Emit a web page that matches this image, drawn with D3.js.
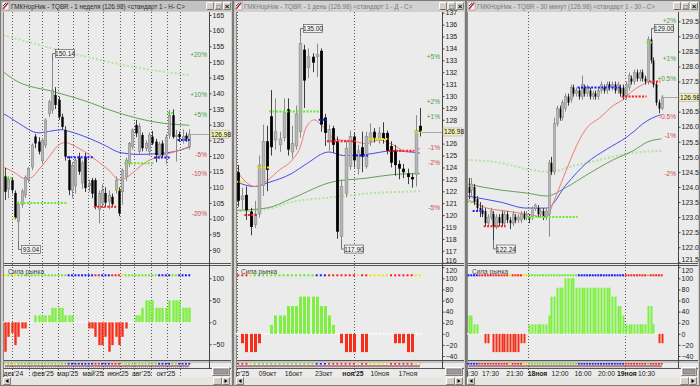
<!DOCTYPE html>
<html>
<head>
<meta charset="utf-8">
<script src="https://cdn.jsdelivr.net/npm/d3@7"></script>
<style>
  body { margin: 0; background: #d4d0c8; }
  svg { display: block; font-family: "Liberation Sans", Arial, sans-serif; }
</style>
</head>
<body>
<svg id="chart" width="700" height="386"></svg>
<script>
const titles = [
  "ГМКНорНик - TQBR - 1 неделя (126.98) <стандарт 1 - Н- С>",
  "ГМКНорНик - TQBR - 1 день (126.98) <стандарт 1 - Д - С>",
  "ГМКНорНик - TQBR - 30 минут (126.98) <стандарт 1 - 30 - С>"
];
const lastPrice = 126.98;

// weekly candles [open, high, low, close]
const candles1 = [
  [113.5,116.2,106,108.6],[109.5,113.5,106.5,112.5],[112.3,113,108,109.1],[108.2,109,99.8,100.2],
  [99,105.5,93.04,104.5],[104.5,109.5,103.5,108.8],[107.5,113.8,106.5,113.2],[112.5,116.5,111.5,116],
  [116.5,124,115.5,123.5],[126.2,127,122.5,124],[124.6,126,120.5,121.4],[118.5,125.5,117.5,125],
  [123.5,132,122.5,131.5],[133.6,138,132.5,137.3],[134.7,150.14,133.5,141],[139.5,142,135,136.3],
  [137.9,139,131.5,132.5],[132.5,133.5,128.5,129.3],[128.3,129.5,118.5,119.8],[118.7,120,107.5,109.1],
  [109,118,106.5,117],[110.5,119.5,108,118.7],[119.4,121,114,115],[111.4,118.5,109.5,117.8],
  [119.8,121,108.5,109.8],[110.5,112.5,108.5,111.2],[112.3,113,106.5,108],[112.3,113,103,103.8],
  [103,109,98.5,108],[105,111,103.5,109],[108.2,110,104,105.1],[105.5,109,103,107.5],
  [107,108,103.8,104.6],[109.1,113.5,108,112.3],[109.1,110,100.8,101.7],[108.6,116,104.5,115.5],
  [113.4,119.5,112,118.7],[117.7,124.5,116.5,124],[123,128.8,122,128.3],[129.9,131.5,126,127.2],
  [121.5,130.5,120.5,129.5],[126.7,127.5,121.5,122.5],[122.5,125,121.5,124],[121.4,127.5,120,126.7],
  [126.2,128,123.5,124],[124.6,125.5,118,120.3],[120,124.5,119,123.8],[124,125,119.5,120.3],
  [120.5,127,117.5,126],[126.7,134.7,125.5,133],[133,134.9,125.5,126.1],[126.2,128.3,118.2,126.5],
  [127,127.8,124.5,126],[125.5,128.5,124,126.3],[126.5,127.5,124.5,125.5],[123,128.5,122,126.98]
];
// daily candles
const candles2 = [
  [123.6,124.2,120.7,121.2],[121.3,122.3,120.5,121.6],[121.7,122.4,119.6,120.4],[120.3,120.6,118.3,119.0],
  [119.2,121.2,118.9,120.1],[120.1,125.0,119.8,124.2],[122.5,127.6,121.6,126.2],[126.2,127.5,122.0,123.8],
  [128.3,130.5,125.0,125.7],[126.3,129.8,125.5,127.0],[125.9,127.0,125.3,126.4],[126.5,129.8,126.2,128.6],
  [128.9,129.8,125.0,125.5],[125.3,127.5,124.8,126.0],[125.8,129.2,125.5,128.5],[127.0,135.0,126.5,134.4],
  [133.9,134.3,129.0,131.3],[132.4,134.0,131.5,133.3],[133.3,133.6,132.0,132.8],[133.3,134.4,131.6,133.5],
  [133.8,134.0,127.0,127.6],[128.2,128.5,125.8,126.9],[126.3,127.6,125.4,127.2],[127.3,127.5,125.2,125.9],
  [126.2,126.6,118.0,118.6],[118.2,123.0,117.9,122.4],[121.8,126.2,121.5,125.6],[124.1,127.1,123.8,126.6],
  [126.6,126.9,124.0,124.6],[123.9,125.9,123.4,125.4],[125.7,127.0,123.6,124.9],[124.1,127.0,123.9,126.6],
  [126.2,127.7,125.8,126.9],[127.0,127.3,126.1,126.5],[126.4,127.4,126.0,126.9],[126.9,127.8,126.0,126.4],
  [126.9,127.1,125.1,125.4],[125.8,126.2,124.0,124.4],[125.4,125.9,123.3,124.2],[124.3,124.6,123.0,123.9],
  [123.9,124.3,123.1,123.6],[123.5,123.9,122.6,123.2],[123.2,123.5,122.3,123.0],[123.4,128.4,122.4,127.1],
  [127.5,129.0,126.6,126.98]
];
// 30-minute candles
const candles3 = [
  [124.0,124.3,123.6,123.8],[123.9,124.3,123.7,124.1],[124.0,124.1,123.4,123.5],[123.6,123.7,123.2,123.3],
  [123.3,123.5,123.0,123.2],[123.2,123.4,123.0,123.1],[123.2,123.3,122.7,122.8],[122.8,123.1,122.7,123.0],
  [123.0,123.3,122.9,123.2],[123.1,123.2,122.24,122.7],[122.7,123.1,122.6,123.0],[123.0,123.1,122.7,122.8],
  [123.1,123.2,122.7,122.8],[122.8,123.2,122.7,123.1],[123.1,123.2,122.8,122.9],[122.9,123.0,122.6,122.8],
  [122.8,123.2,122.7,123.1],[123.0,123.1,122.8,122.9],[122.9,123.1,122.8,123.0],[122.9,123.2,122.8,123.1],
  [123.1,123.2,122.9,122.95],[123.0,123.2,122.9,123.1],[123.0,123.1,122.8,122.95],[123.0,123.35,122.9,123.3],
  [123.3,123.45,123.2,123.4],[123.3,123.4,123.0,123.1],[123.1,123.3,123.0,123.2],[123.2,123.3,122.9,123.0],
  [123.0,123.3,122.9,123.2],[123.1,124.9,122.35,124.8],[124.8,125.0,124.4,124.5],[124.5,126.3,124.4,126.1],
  [126.1,126.7,126.0,126.6],[126.6,126.7,126.2,126.3],[126.3,126.9,126.2,126.8],[126.6,127.1,126.5,127.0],
  [127.0,127.1,126.7,126.8],[126.9,127.4,126.8,127.3],[127.3,127.4,127.0,127.1],[127.1,127.3,127.0,127.2],
  [127.2,127.3,126.9,127.0],[127.0,127.7,126.9,127.4],[127.3,127.4,127.0,127.1],[127.1,127.4,127.0,127.3],
  [127.2,127.3,126.9,127.0],[127.0,127.2,126.9,127.1],[127.1,127.2,126.9,127.0],[127.0,127.3,126.9,127.2],
  [127.2,127.5,127.1,127.4],[127.3,127.4,127.1,127.2],[127.2,127.5,127.1,127.4],[127.4,127.5,127.2,127.3],
  [127.3,127.5,127.2,127.4],[127.4,127.5,127.1,127.2],[127.2,127.5,127.1,127.4],[127.3,127.4,127.0,127.1],
  [127.3,127.4,126.9,127.0],[127.0,127.5,126.9,127.4],[127.3,127.8,127.2,127.7],[127.6,127.7,127.4,127.5],
  [127.5,127.9,127.4,127.8],[127.8,127.9,127.5,127.6],[127.6,127.9,127.5,127.8],[127.8,127.9,127.5,127.6],
  [127.6,127.7,127.4,127.5],[127.5,129.0,127.4,128.9],[128.9,129.0,128.1,128.2],[128.2,128.3,127.3,127.4],
  [127.4,127.5,126.7,126.8],[126.8,126.9,126.45,126.6],[126.6,127.05,126.55,126.98]
];

// moving averages, [bar index, value]
const maRed1 = [[-0.6,116.4],[0,116.2],[3,114.6],[6,112.7],[8,113.2],[10,115.5],[13,119.5],[16,123.5],[18,124.3],[20,123.6],[22,122.5],[25,120.5],[28,118],[31,115.5],[34,112.5],[36,113],[38,114.5],[40,116.4],[43,118.6],[46,119.8],[49,120.8],[52,121.8],[55,123]];
const maBlue1 = [[-0.6,133.5],[0,133.2],[4,130.5],[10,127.4],[14,128.0],[17,128.4],[19,127.9],[25,125.7],[30,123.3],[34,121.2],[40,120.5],[46,120.8],[50,121.3],[55,122.8]];
const maGreen1 = [[-0.6,146.9],[3,144.2],[15,140.4],[23,137.9],[34,133.7],[45,130.8],[55,129.8]];
const maSlow1 = [[-0.6,158.6],[18,153.3],[38,148.5],[55,145.8]];

const maRed2 = [[-0.6,123.8],[4,122.4],[7,122.9],[10,123.8],[13,124.6],[15,125.7],[16.5,127.4],[18.5,128],[20,127.6],[22,126.9],[23,126.4],[28,126.2],[31,126],[34,126.3],[37.5,125.9],[41,125.3],[44,125.6]];
const maBlue2 = [[-0.6,122.8],[4,122.4],[7,122.7],[13,123.5],[16.5,124.3],[22,125.3],[25.5,125.0],[31,125.1],[37.5,125.4],[44,125.2]];
const maGreen2 = [[-0.6,120.4],[7,120.6],[13,121.4],[23,122.8],[31,123.1],[37.5,123.4],[44,123.5]];
const maSlow2 = [[-0.6,120.3],[7,120.5],[13,121.1],[23,121.5],[31,121.8],[44,122.0]];

const maRed3 = [[-0.6,123.6],[6.7,123.3],[13.9,123.2],[21,123.1],[28.3,123.0],[30.8,123.5],[35.6,124.6],[40.4,125.6],[42.8,125.95],[47.6,126.3],[52.4,126.7],[56,126.9],[59.6,127.2],[63.2,127.4],[65.6,127.5],[67.5,127.4],[68.7,127.35]];
const maBlue3 = [[-0.6,123.7],[11.5,123.5],[21,123.3],[28.3,123.3],[35.6,124.1],[42.8,124.8],[50,125.25],[57.2,125.65],[60,125.85],[63.2,126.1],[66.8,126.3],[69.9,126.4]];
const maGreen3 = [[-0.6,124.1],[11.5,123.9],[21,123.8],[28.3,123.7],[35.6,124.0],[42.8,124.4],[52.4,124.9],[59.6,125.2],[65,125.5],[69.9,125.6]];
const maSlow3 = [[-0.6,124.9],[11.5,124.8],[21,124.6],[29.5,124.5],[38,124.7],[47.6,124.9],[57.2,125.1],[69.9,125.2]];

// level markers [from bar, to bar, price, state]
const levels1 = [[0,0,115,"y"],[1,2,112.9,"g"],[3,3,100.2,"y"],[4,18,105,"g"],[19,26,119.6,"b"],[27,33,103.8,"r"],[34,34,109.1,"y"],[36,44,117.7,"g"],[45,49,119.5,"b"],[49,50,133.7,"g"],[52,55,125.1,"b"]];
const levels2 = [[0,1,122.8,"y"],[2,4,120.0,"r"],[5,7,124.0,"y"],[8,19,128.7,"g"],[20,21,128.0,"b"],[22,28,126.2,"r"],[29,31,125.0,"b"],[32,36,126.4,"y"],[37,42,125.4,"r"],[43,44,127.0,"y"]];
const levels3 = [[0,1,123.5,"g"],[2,5,123.2,"b"],[6,13,122.7,"r"],[21,39,123.0,"g"],[40,55,127.3,"b"],[56,64,127.0,"r"],[65,66,128.8,"g"],[66,69,127.5,"r"]];

// extremes [bar, price, isHigh]
const ext1 = [[14,150.14,1],[4,93.04,0]];
const ext2 = [[15,135.00,1],[25,117.90,0]];
const ext3 = [[66,129.00,1],[9,122.24,0]];

// "Сила рынка" indicator
const ind1 = [-67,-33,-24,-52,-33,-14,-14,0,0,16,16,16,16,16,33,33,33,33,16,16,16,0,0,0,0,-14,-14,-33,-52,-52,-33,-67,-52,-33,-52,-33,-14,0,0,16,16,33,50,50,50,33,33,33,33,50,50,50,50,33,33,33];
const ind2 = [0,-17,-33,-33,-33,-17,0,0,16,33,33,33,50,50,50,67,67,67,67,67,50,50,33,16,0,-17,-33,-33,-33,0,-33,-33,0,0,0,0,0,0,-17,-17,-17,-33,-33,0,0];
const ind3 = [33,33,17,17,0,0,-17,-17,0,-33,-33,-33,-33,-33,-33,-33,-33,-33,-33,-17,-17,0,17,17,17,17,17,17,17,33,67,67,83,83,83,100,100,100,100,83,83,83,83,83,83,83,83,83,83,83,83,83,67,67,50,50,33,17,17,17,17,17,17,17,17,50,50,17,0,-17,-17];
const states1 = ("y" + "gg" + "y" + "ggggggggggggggg" + "bbbbbbbb" + "rr" + "bbb" + "rrr" + "y" + "gggggggggg" + "bbbb" + "gg" + "bbbb").split("");
const states2 = ("rrr" + "y" + "ggggggggggggggg" + "bbb" + "rrrrrrr" + "y" + "rr" + "yyyyy" + "rrrrrr" + "yy").split("");
const states3 = ("bbbb" + "rrrrrrrrrrr" + "y" + "rrrr" + "yy" + "gggggggggggggggggg" + "bbbbbbbbbbbbbbbbb" + "rrrrrrrr" + "g" + "rrrrr").split("");

// axis ticks and labels
const yTicks1 = [90,95,100,105,110,115,120,125,130,135,140,145,150,155,160,165];
const yTicks2 = [116,117,118,119,120,121,122,123,124,125,126,127,128,129,130,131,132,133,134,135,136,137];
const yTicks3 = [121.5,122.0,122.5,123.0,123.5,124.0,124.5,125.0,125.5,126.0,126.5,127.0,127.5,128.0,128.5,129.0,129.5];
const indTicks1 = [100,50,0,-50];
const indTicks23 = [120,100,80,60,40,20,0,-20,-40];
const pcts1 = [20,10,5,-5,-10,-20];
const pcts2 = [5,2,1,-1,-2,-5];
const pcts3 = [2,1,0.5,-0.5,-1,-2];
const xLabels1 = ["дек'24","фев'25","мар'25","май'25","июн'25","авг'25","окт'25"];
const xLabelIdx1 = [2.5,11.3,18.7,26.3,33.7,40.7,48];
const xLabels2 = ["окт'25","09окт","16окт","23окт","ноя'25","10ноя","17ноя"];
const xLabelIdx2 = [0.4,7.1,13.4,20.7,27.8,34.3,41.1];
const xLabels3 = ["13:30","17:30","21:30","18ноя","12:00","16:00","20:00","19ноя","10:30"];
const xLabelIdx3 = [0.4,8.0,16.8,25.0,33.2,41.5,50.0,57.4,64.5];
const grid1 = [2.0,7.2,11.0,15.9,20.4,24.9,29.3,34.3,38.6,43.5,48.3,52.2];
const grid2 = [-0.3,27.95];
const grid3 = [21.56,56.6];

const COLORS = { g: "#66ea2e", b: "#1a1aff", r: "#ff1c1c", y: "#e8e800" };
const svg = d3.select("#chart");
const defs = svg.append("defs");

function raised(g, x, y, w, h) {
  g.append("rect").attr("x", x).attr("y", y).attr("width", w).attr("height", h).attr("fill", "#d4d0c8");
  g.append("path").attr("d", `M${x + 0.5},${y + h - 0.5}V${y + 0.5}H${x + w - 0.5}`)
    .attr("stroke", "#ffffff").attr("fill", "none");
  g.append("path").attr("d", `M${x + 0.5},${y + h - 0.5}H${x + w - 0.5}V${y + 0.5}`)
    .attr("stroke", "#808080").attr("fill", "none");
}

const panels = [
  { title: titles[0], candles: candles1, ind: ind1, states: states1, levels: levels1, ext: ext1,
    ma: [maSlow1, maGreen1, maBlue1, maRed1], yTicks: yTicks1, fmt: d3.format("d"), pcts: pcts1,
    indTicks: indTicks1, xLabels: xLabels1, xIdx: xLabelIdx1, bold: [], grid: grid1,
    left: 0, right: 233, plotL: 3, axisX: 209, x0: 5, step: 3.35, bodyW: 2.4, barW: 2.4,
    yDom: [90, 165], yRange: [250, 15], indDom: [-50, 100], indRange: [344.3, 278.3], active: true },
  { title: titles[1], candles: candles2, ind: ind2, states: states2, levels: levels2, ext: ext2,
    ma: [maSlow2, maGreen2, maBlue2, maRed2], yTicks: yTicks2, fmt: d3.format("d"), pcts: pcts2,
    indTicks: indTicks23, xLabels: xLabels2, xIdx: xLabelIdx2, bold: [4], grid: grid2,
    left: 233, right: 466, plotL: 236, axisX: 442, x0: 238.2, step: 4.13, bodyW: 2.8, barW: 3,
    yDom: [116, 137], yRange: [262.7, 12.7], indDom: [-40, 100], indRange: [356, 278.3], active: false },
  { title: titles[2], candles: candles3, ind: ind3, states: states3, levels: levels3, ext: ext3,
    ma: [maSlow3, maGreen3, maBlue3, maRed3], yTicks: yTicks3, fmt: d3.format(".1f"), pcts: pcts3,
    indTicks: indTicks23, xLabels: xLabels3, xIdx: xLabelIdx3, bold: [3, 7], grid: grid3,
    left: 466, right: 700, plotL: 467, axisX: 678, x0: 468.5, step: 2.76, bodyW: 1.8, barW: 2,
    yDom: [121.5, 129.5], yRange: [262.3, 21.3], indDom: [-40, 100], indRange: [356, 278.3], active: false }
];

function drawPanel(p, k) {
  const n = p.candles.length;
  const x = d3.scaleLinear().domain([0, n - 1]).range([p.x0, p.x0 + p.step * (n - 1)]);
  const y = d3.scaleLinear().domain(p.yDom).range(p.yRange);
  const yi = d3.scaleLinear().domain(p.indDom).range(p.indRange);
  const W = p.right - p.left;
  const plotR = p.right - 2;
  const g = svg.append("g");

  // window + title bar
  g.append("rect").attr("x", p.left).attr("y", 0).attr("width", W).attr("height", 386).attr("fill", "#d4d0c8");
  g.append("rect").attr("x", p.left + 1).attr("y", 1).attr("width", W - 2).attr("height", 10)
    .attr("fill", p.active ? "#c2c2c2" : "#d2d2d2");
  g.append("rect").attr("x", p.left + 2).attr("y", 2).attr("width", 7).attr("height", 8).attr("fill", "#f4f4f4").attr("stroke", "#777").attr("stroke-width", 0.5);
  g.append("path").attr("d", `M${p.left + 3},${9}L${p.left + 8},${3}`).attr("stroke", "#d02020").attr("stroke-width", 1.5);
  g.append("path").attr("d", `M${p.left + 3},${6}L${p.left + 6},${3}`).attr("stroke", "#2040c0").attr("stroke-width", 1);
  g.append("text").attr("x", p.left + 11).attr("y", 8.5).attr("font-size", 6.3)
    .attr("fill", p.active ? "#2a2a2a" : "#7a7a7a").text(p.title);
  ["_", "□", "×"].forEach((s, j) => {
    const bx = p.right - 27 + j * 8.5;
    raised(g, bx, 2, 8, 8);
    g.append("text").attr("x", bx + 4).attr("y", 8.5).attr("text-anchor", "middle")
      .attr("font-size", j === 2 ? 8 : 6.5).attr("font-weight", "bold").attr("fill", "#111").text(s);
  });

  // plot background
  g.append("rect").attr("x", p.plotL).attr("y", 12).attr("width", plotR - p.plotL).attr("height", 365).attr("fill", "#ebebeb");

  defs.append("clipPath").attr("id", "main" + k).append("rect")
    .attr("x", p.plotL).attr("y", 12).attr("width", p.axisX - p.plotL).attr("height", 251);
  defs.append("clipPath").attr("id", "ind" + k).append("rect")
    .attr("x", p.plotL).attr("y", 266).attr("width", p.axisX - p.plotL).attr("height", 94);
  defs.append("clipPath").attr("id", "lab" + k).append("rect")
    .attr("x", p.plotL).attr("y", 369).attr("width", p.axisX - p.plotL).attr("height", 9);

  // vertical dotted gridlines
  g.selectAll(".grid").data(p.grid).join("line")
    .attr("x1", d => Math.round(x(d)) + 0.5).attr("x2", d => Math.round(x(d)) + 0.5)
    .attr("y1", 12).attr("y2", 377).attr("stroke", "#5a5a5a").attr("stroke-dasharray", "1,2");

  // main chart
  const m = g.append("g").attr("clip-path", `url(#main${k})`);
  const line = d3.line().x(d => x(d[0])).y(d => y(d[1])).curve(d3.curveMonotoneX);
  const maStyle = [
    { c: "#b2e49c", w: 2, dash: "2,2" }, { c: "#62a255", w: 1 }, { c: "#4a4af2", w: 1 }, { c: "#f07a74", w: 1 }
  ];
  p.ma.forEach((ma, j) => {
    m.append("path").attr("d", line(ma)).attr("fill", "none")
      .attr("stroke", maStyle[j].c).attr("stroke-width", maStyle[j].w)
      .attr("stroke-dasharray", maStyle[j].dash || null);
  });

  const c = m.selectAll(".candle").data(p.candles).join("g");
  c.append("line")
    .attr("x1", (d, i) => Math.round(x(i)) + 0.5).attr("x2", (d, i) => Math.round(x(i)) + 0.5)
    .attr("y1", d => y(d[1])).attr("y2", d => y(d[2]))
    .attr("stroke", d => d[3] >= d[0] ? "#8a8a8a" : "#3c3c3c");
  c.append("rect")
    .attr("x", (d, i) => Math.round(x(i)) + 0.5 - p.bodyW / 2)
    .attr("y", d => y(Math.max(d[0], d[3])))
    .attr("width", p.bodyW)
    .attr("height", d => Math.max(1, Math.abs(y(d[0]) - y(d[3]))))
    .attr("fill", d => d[3] >= d[0] ? "#b6b6b6" : "#000")
    .attr("stroke", d => d[3] >= d[0] ? "#8a8a8a" : "none").attr("stroke-width", 0.6);

  m.selectAll(".lvl").data(p.levels).join("line")
    .attr("x1", d => x(d[0]) - p.step / 2).attr("x2", d => x(d[1]) + p.step / 2)
    .attr("y1", d => y(d[2])).attr("y2", d => y(d[2]))
    .attr("stroke", d => COLORS[d[3]]).attr("stroke-width", 2).attr("stroke-dasharray", "2,1.4");

  // percent labels
  g.selectAll(".pct").data(p.pcts).join("text")
    .attr("x", p.axisX - 2).attr("y", d => y(lastPrice * (1 + d / 100)) + 2.5)
    .attr("text-anchor", "end").attr("font-size", 6.5)
    .attr("fill", d => d > 0 ? "#48a040" : "#d04a4a")
    .text(d => (d > 0 ? "+" : "") + d + "%");

  // extreme labels
  p.ext.forEach(([i, v, hi]) => {
    const px = Math.round(x(i)) + 0.5, py = y(v);
    const ly = hi ? py - 8 : py + 9;
    g.append("path").attr("d", `M${px},${py}V${ly}H${px + 3}`).attr("stroke", "#707070").attr("fill", "none");
    g.append("rect").attr("x", px + 3).attr("y", ly - 4).attr("width", 19).attr("height", 8)
      .attr("fill", "#f2f2f2").attr("stroke", "#606060").attr("stroke-width", 0.7);
    g.append("text").attr("x", px + 12.5).attr("y", ly + 2.5).attr("text-anchor", "middle")
      .attr("font-size", 6.5).attr("fill", "#222").text(v.toFixed(2));
  });

  // last price line
  g.append("line").attr("x1", x(n - 1) + 2).attr("x2", p.axisX)
    .attr("y1", Math.round(y(lastPrice)) + 0.5).attr("y2", Math.round(y(lastPrice)) + 0.5).attr("stroke", "#a8a8a8");

  // separators and axis line
  [263.5, 265.5, 360.5, 362, 368.5].forEach(yy => {
    g.append("line").attr("x1", p.plotL).attr("x2", plotR).attr("y1", yy).attr("y2", yy)
      .attr("stroke", yy === 362 ? "#9a9a9a" : "#555");
  });
  g.append("line").attr("x1", p.axisX + 0.5).attr("x2", p.axisX + 0.5).attr("y1", 12).attr("y2", 369).attr("stroke", "#444");
  g.append("line").attr("x1", p.plotL + 0.5).attr("x2", p.plotL + 0.5).attr("y1", 12).attr("y2", 377).attr("stroke", "#888");

  // price axis, the tick hidden by the last-price tag is left out
  const ticks = p.yTicks.filter(t => Math.abs(y(t) - y(lastPrice)) > 5);
  const ax = g.append("g").attr("transform", `translate(${p.axisX + 0.5},0)`)
    .call(d3.axisRight(y).tickValues(ticks).tickSize(2).tickFormat(p.fmt));
  ax.select(".domain").remove();
  ax.selectAll("line").attr("stroke", "#444");
  ax.selectAll("text").attr("font-size", 7).attr("fill", "#222").attr("x", 3)
    .attr("font-family", "Liberation Sans, Arial, sans-serif")
    .attr("dy", d => y(d) > 258 ? "-0.05em" : "0.32em");

  // last price tag
  g.append("rect").attr("x", p.axisX + 1).attr("y", y(lastPrice) - 4).attr("width", 19).attr("height", 8)
    .attr("fill", "#f0f0b8").attr("stroke", "#a0a0a0").attr("stroke-width", 0.5);
  g.append("text").attr("x", p.axisX + 2).attr("y", y(lastPrice) + 2.5).attr("font-size", 6.6).attr("fill", "#111")
    .text(lastPrice.toFixed(2));

  // indicator
  const ig = g.append("g").attr("clip-path", `url(#ind${k})`);
  ig.append("line").attr("x1", x(0) - p.step / 2).attr("x2", x(n - 1) + p.step / 2)
    .attr("y1", yi(0)).attr("y2", yi(0)).attr("stroke", "#ffffff").attr("stroke-width", 1.6).attr("stroke-dasharray", "2,1.4");
  ig.selectAll(".bar").data(p.ind).join("rect")
    .attr("x", (d, i) => Math.round(x(i)) + 0.5 - p.barW / 2)
    .attr("y", d => Math.min(yi(0), yi(d)))
    .attr("width", p.barW)
    .attr("height", d => Math.abs(yi(d) - yi(0)))
    .attr("fill", d => d > 0 ? "#7df040" : "#f5301a");
  ig.selectAll(".st").data(p.states).join("rect")
    .attr("x", (d, i) => x(i) - 1).attr("y", p.indRange[1] - 4).attr("width", 2).attr("height", 2)
    .attr("fill", d => COLORS[d]);
  g.append("text").attr("x", p.plotL + 5).attr("y", 274).attr("font-size", 6.5).attr("fill", "#444").text("Сила рынка");

  const iax = g.append("g").attr("transform", `translate(${p.axisX + 0.5},0)`)
    .call(d3.axisRight(yi).tickValues(p.indTicks).tickSize(2));
  iax.select(".domain").remove();
  iax.selectAll("line").attr("stroke", "#444");
  iax.selectAll("text").attr("font-size", 7).attr("fill", "#222").attr("x", 3)
    .attr("font-family", "Liberation Sans, Arial, sans-serif")
    .attr("dy", d => yi(d) < 270 ? "0.75em" : "0.32em");

  // lower strip
  g.selectAll(".st2").data(p.states).join("rect")
    .attr("x", (d, i) => x(i) - 1).attr("y", 363).attr("width", 2).attr("height", 1.6)
    .attr("fill", d => COLORS[d]);
  g.append("line").attr("x1", x(0)).attr("x2", x(n - 1)).attr("y1", 366).attr("y2", 366)
    .attr("stroke", "#8a1e1e").attr("stroke-width", 1.2);
  g.append("line").attr("x1", x(0)).attr("x2", x(n - 1)).attr("y1", 367.3).attr("y2", 367.3)
    .attr("stroke", "#7080c0").attr("stroke-width", 0.6).attr("stroke-dasharray", "1,1");

  // time labels
  g.append("g").attr("clip-path", `url(#lab${k})`).selectAll("text").data(p.xLabels).join("text")
    .attr("x", (d, i) => x(p.xIdx[i])).attr("y", 375.5).attr("text-anchor", "middle")
    .attr("font-size", 6.8).attr("fill", "#222")
    .attr("font-weight", (d, i) => p.bold.includes(i) ? "bold" : null)
    .text(d => d);

  // scroll bar and corner button
  g.append("rect").attr("x", p.plotL).attr("y", 377).attr("width", plotR - p.plotL).attr("height", 8).attr("fill", "#e8e6e2");
  raised(g, p.plotL, 377, 8, 8);
  g.append("path").attr("d", `M${p.plotL + 2.5},381L${p.plotL + 5.5},379V383Z`).attr("fill", "#000");
  raised(g, plotR - 9, 377, 8, 8);
  g.append("path").attr("d", `M${plotR - 3.5},381L${plotR - 6.5},379V383Z`).attr("fill", "#000");
  raised(g, plotR - 18, 377, 9, 8);
  raised(g, p.axisX + 3, 367, plotR - p.axisX - 4, 9);
  g.append("rect").attr("x", p.axisX + 5).attr("y", 369).attr("width", plotR - p.axisX - 8).attr("height", 5)
    .attr("fill", "#9a9a9a").attr("stroke", "#666").attr("stroke-width", 0.5);

  // window frame
  g.append("rect").attr("x", p.left + 0.5).attr("y", 0.5).attr("width", W - 1).attr("height", 385)
    .attr("fill", "none").attr("stroke", "#7a7a7a");
}

panels.forEach(drawPanel);
</script>
</body>
</html>
